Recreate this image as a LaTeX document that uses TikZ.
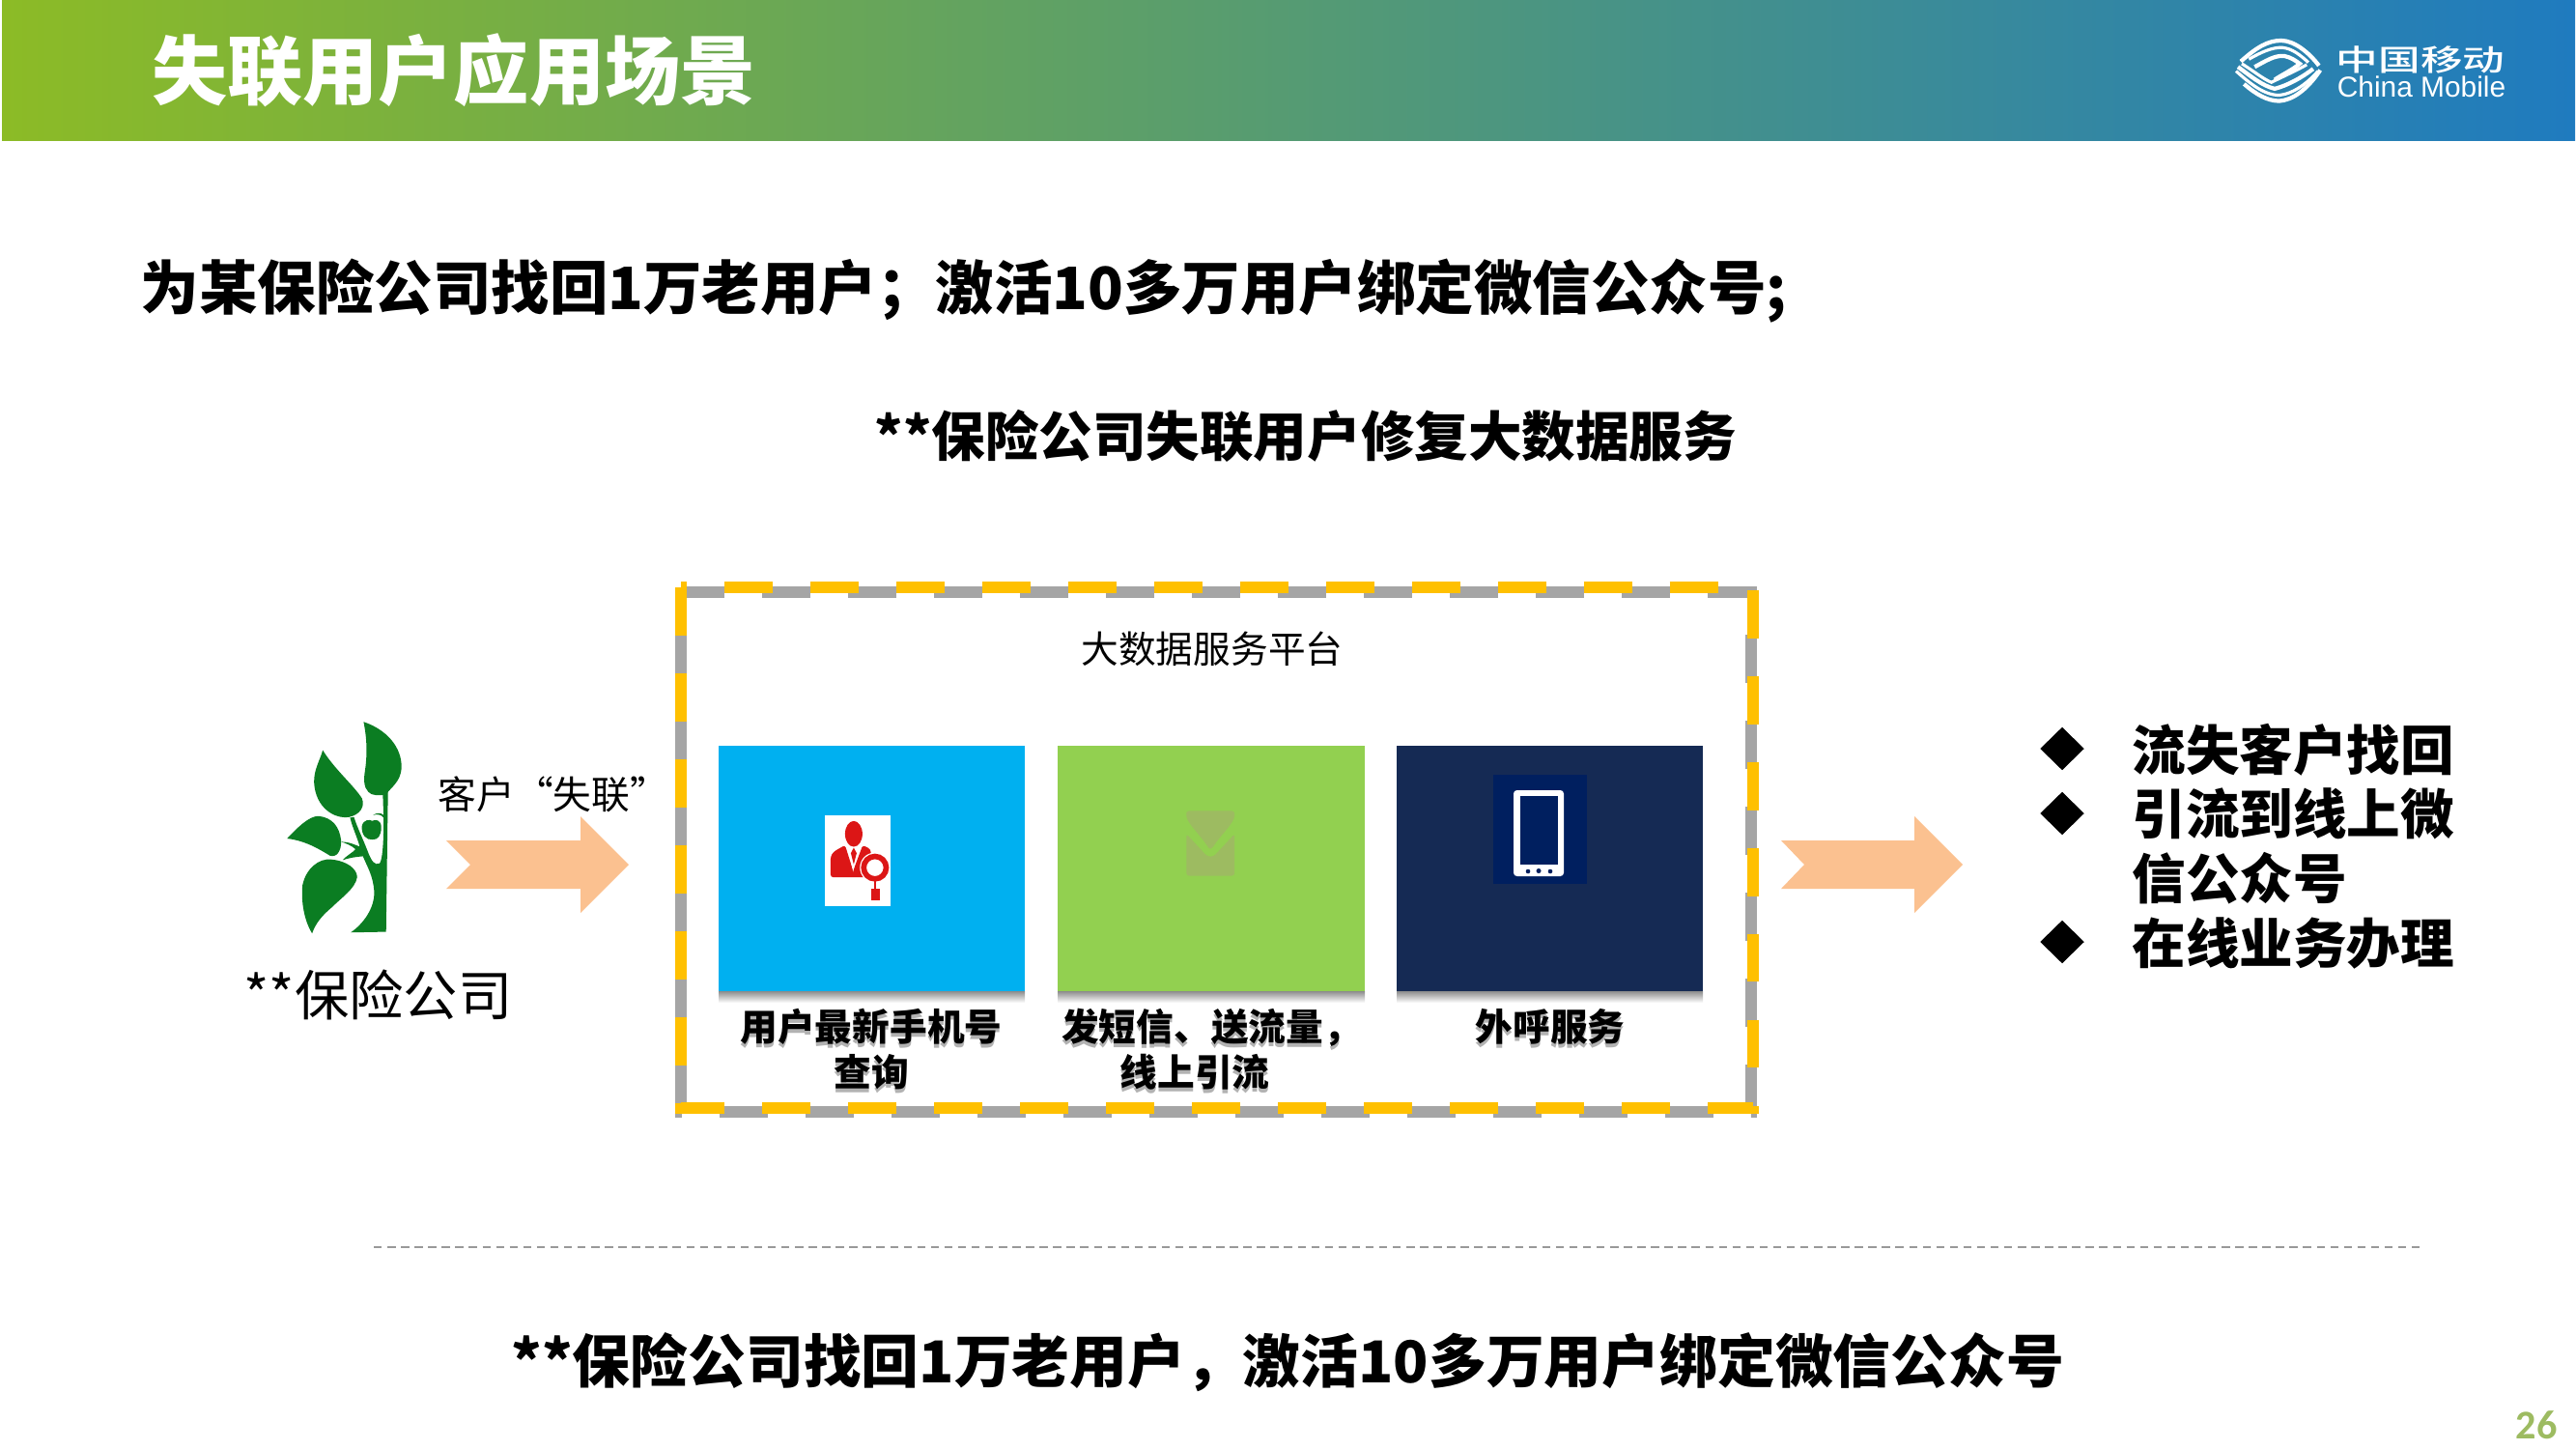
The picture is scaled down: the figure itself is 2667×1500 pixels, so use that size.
\documentclass[tikz,border=0pt]{standalone}
\usepackage{fontspec}
\usepackage{graphicx}
\newfontfamily\cjk{Noto Sans CJK SC}
\newfontfamily\cjkmedium{Noto Sans CJK SC Medium}
\newfontfamily\cjkheavy{Noto Sans CJK SC Black}
\newfontfamily\latinlogo{Liberation Sans}
\newfontfamily\pagefont{Carlito}
\usetikzlibrary{shapes.geometric}
\definecolor{leafgreen}{HTML}{0B7D22}
\definecolor{arrowpeach}{HTML}{FBC190}
\definecolor{frameyellow}{HTML}{FFC000}
\definecolor{framegray}{HTML}{A5A5A5}
\definecolor{tileblue}{HTML}{00B0F0}
\definecolor{tilegreen}{HTML}{92D050}
\definecolor{tilenavy}{HTML}{152A54}
\definecolor{iconnavy}{HTML}{001F5F}
\definecolor{iconolive}{HTML}{9DBB61}
\definecolor{iconred}{HTML}{DC1616}
\definecolor{bannerleft}{HTML}{8CBB26}
\definecolor{bannerright}{HTML}{1F7BBF}
\newcommand{\softshadow}[1]{\leavevmode\rlap{\raisebox{-1.1pt}{\color{black!30}#1}}#1}
\tikzset{
  headline/.style={font=\cjkheavy\fontsize{17}{20}\selectfont, inner sep=0pt},
  plainlabel/.style={font=\cjk\fontsize{11}{13}\selectfont, inner sep=0pt},
  tile/.style={minimum width=3.17cm, minimum height=2.54cm, inner sep=0pt},
  tilelabel/.style={font=\cjkheavy\fontsize{11}{13.3}\selectfont, align=center, inner sep=0pt},
  bulletmark/.style={diamond, fill=black, minimum width=0.46cm, minimum height=0.45cm, inner sep=0pt},
  bullettext/.style={font=\cjkheavy\fontsize{15.8}{19}\selectfont, anchor=west, inner sep=0pt},
  blockarrow/.style={fill=arrowpeach},
  logoband/.style={draw=white, line width=0.9pt}
}
\begin{document}
\begin{tikzpicture}[x=0.01cm,y=-0.01cm]
  \useasboundingbox (0,0) rectangle (2667,1500);
  % header
  \shade[left color=bannerleft, right color=bannerright] (2,1) rectangle (2666,146);
  \node [headline, white, font=\cjkheavy\fontsize{22.2}{26}\selectfont, anchor=west] (title) at (157,73) {失联用户应用场景};
  % logo
  \begin{scope}[shift={(2305,32)}, x=0.00333cm, y=-0.00333cm]
    \draw[logoband, line width=1.2pt] (45,95) .. controls (95,50) and (130,30) .. (170,30) .. controls (210,30) and (255,65) .. (288,108);
    \draw[logoband] (70,88) .. controls (110,65) and (145,50) .. (175,52) .. controls (205,55) and (230,75) .. (255,98);
    \draw[logoband, line width=1.2pt] (88,112) .. controls (120,95) and (150,75) .. (180,78) .. controls (200,82) and (215,92) .. (228,102) .. controls (205,122) and (175,135) .. (150,152);
    \draw[logoband] (48,102) .. controls (85,125) and (115,150) .. (140,160) .. controls (180,140) and (215,125) .. (250,105);
    \draw[logoband, line width=1.2pt] (36,112) .. controls (75,140) and (110,170) .. (150,180) .. controls (190,170) and (235,145) .. (270,118);
    \draw[logoband] (30,125) .. controls (70,160) and (115,200) .. (165,200) .. controls (210,195) and (255,160) .. (285,125);
    \draw[logoband, line width=1.2pt] (55,165) .. controls (95,200) and (130,218) .. (165,218) .. controls (205,215) and (250,185) .. (292,122);
  \end{scope}
  \node [font=\cjkmedium\fontsize{12.4}{14}\selectfont, white, inner sep=0pt] (brandcn) at (2506,62) {\scalebox{1}[0.7]{中国移动}};
  \node [font=\latinlogo\fontsize{8.5}{10}\selectfont, white, inner sep=0pt] (branden) at (2507,90) {China Mobile};
  % headlines
  \node [headline, font=\cjkheavy\fontsize{17.2}{20}\selectfont, anchor=west] (result) at (145,301) {为某保险公司找回1万老用户^^^^ff1b激活10多万用户绑定微信公众号;};
  \node [headline, font=\cjkheavy\fontsize{15.8}{19}\selectfont, anchor=west] (service) at (905,451) {**保险公司失联用户修复大数据服务};
  \node [headline, anchor=west] (summary) at (529,1410) {**保险公司找回1万老用户^^^^ff0c激活10多万用户绑定微信公众号};
  % frame
  \draw[framegray, line width=3.3pt, dash pattern=on 14.2pt off 11.1pt, dash phase=1.4pt] (705,613) -- (1813,613) -- (1813,1151) -- (705,1151) -- cycle;
  \draw[frameyellow, line width=3.3pt, dash pattern=on 14.2pt off 11.1pt, dash phase=12.5pt] (705,608) -- (1815,608) -- (1815,1147) -- (705,1147) -- cycle;
  \node [plainlabel] (platform) at (1255,672) {大数据服务平台};
  % tiles
  \shade[top color=black!45, bottom color=white] (744,1026) rectangle (1061,1038);
  \shade[top color=black!45, bottom color=white] (1095,1026) rectangle (1413,1038);
  \shade[top color=black!45, bottom color=white] (1446,1026) rectangle (1763,1038);
  \node [tile, fill=tileblue] (lookup) at (902.5,899) {};
  \node [tile, fill=tilegreen] (message) at (1254,899) {};
  \node [tile, fill=tilenavy] (call) at (1604.5,899) {};
  \node [tilelabel] (lookuptext) at (902,1088) {\softshadow{用户最新手机号}\\\softshadow{查询}};
  \node [tilelabel] (messagetext) at (1254,1088) {\softshadow{发短信、送流量^^^^ff0c}\\\softshadow{线上引流}\hspace*{0.34cm}};
  \node [tilelabel] (calltext) at (1605,1065) {\softshadow{外呼服务}};
  % lookup icon
  \fill[white] (854,844) rectangle (922,938);
  \begin{scope}[shift={(820,780)}, x=0.00333cm, y=-0.00333cm]
    \fill[iconred] (192,250) ellipse (27 and 40);
    \fill[iconred, rounded corners=0.8pt] (120,385) -- (120,320) -- (130,305) -- (165,285) -- (190,365) -- (220,285) -- (245,298) -- (245,385) -- cycle;
    \fill[white] (176,300) -- (190,368) -- (206,300) -- cycle;
    \fill[iconred] (183,310) -- (192,293) -- (201,310) -- (192,345) -- cycle;
    \fill[white] (258,355) circle (47);
    \draw[iconred, line width=1.6pt] (258,355) circle (35);
    \fill[iconred] (254,392) rectangle (262,420);
    \fill[iconred] (245,420) rectangle (273,456);
  \end{scope}
  % message icon
  \begin{scope}[shift={(1200,820)}, x=0.00333cm, y=-0.00333cm]
    \fill[iconolive, rounded corners=0.8pt] (85,130) -- (150,200) -- (170,200) -- (235,130) -- (235,260) -- (85,260) -- cycle;
    \fill[iconolive] (93,58) -- (227,58) .. controls (236,58) and (236,66) .. (235,75) .. controls (230,100) and (190,135) .. (168,170) .. controls (160,178) and (158,178) .. (152,170) .. controls (130,135) and (90,100) .. (85,75) .. controls (84,66) and (84,58) .. (93,58) -- cycle;
  \end{scope}
  % phone icon
  \fill[iconnavy] (1546,802) rectangle (1643,915);
  \fill[white, rounded corners=1pt] (1567,818) rectangle (1619,907);
  \fill[iconnavy] (1574,824) rectangle (1613,895);
  \fill[iconnavy] (1582,902) circle (2.3);
  \fill[iconnavy] (1593,901.5) circle (2.5);
  \fill[iconnavy] (1605,902) circle (2.3);
  % tree
  \begin{scope}[shift={(220,700)}, x=0.00333cm, y=-0.00333cm]
    \fill[leafgreen] (470,142) .. controls (540,165) and (590,220) .. (588,285) .. controls (585,330) and (555,345) .. (540,368) .. controls (520,372) and (495,372) .. (485,360) .. controls (470,345) and (470,320) .. (475,290) .. controls (482,240) and (480,190) .. (470,142) -- cycle;
    \fill[leafgreen] (343,230) .. controls (380,290) and (440,340) .. (465,380) .. controls (475,405) and (460,430) .. (425,438) .. controls (380,445) and (320,410) .. (316,330) .. controls (315,290) and (335,260) .. (343,230) -- cycle;
    \fill[leafgreen] (232,505) .. controls (265,470) and (300,435) .. (330,435) .. controls (375,440) and (395,470) .. (400,510) .. controls (402,545) and (385,565) .. (365,558) .. controls (320,530) and (280,510) .. (232,505) -- cycle;
    \fill[leafgreen] (310,800) .. controls (285,760) and (275,700) .. (280,650) .. controls (290,600) and (330,565) .. (370,570) .. controls (420,575) and (450,600) .. (450,625) .. controls (445,660) and (400,690) .. (370,720) .. controls (340,745) and (320,770) .. (310,800) -- cycle;
    \fill[leafgreen] (540,795) -- (430,797) .. controls (470,770) and (505,720) .. (503,670) .. controls (500,620) and (480,590) .. (468,560) .. controls (445,562) and (425,565) .. (405,572) .. controls (420,555) and (435,550) .. (445,538) .. controls (430,525) and (415,520) .. (400,515) .. controls (425,515) and (445,525) .. (458,530) .. controls (450,500) and (435,470) .. (428,440) -- (440,438) .. controls (450,470) and (470,510) .. (485,550) .. controls (495,575) and (505,590) .. (520,582) .. controls (530,570) and (533,500) .. (532,440) .. controls (525,430) and (512,428) .. (500,432) .. controls (510,424) and (525,424) .. (532,432) -- (530,370) -- (546,355) -- cycle;
    \fill[leafgreen] (465,465) .. controls (470,445) and (490,445) .. (497,450) .. controls (505,445) and (525,445) .. (525,470) .. controls (525,495) and (515,510) .. (497,508) .. controls (480,510) and (462,495) .. (465,465) -- cycle;
  \end{scope}
  \node [font=\cjk\fontsize{16}{18}\selectfont, inner sep=0pt, anchor=west] (insurer) at (252,1030) {**保险公司};
  \node [font=\cjk\fontsize{11.3}{13}\selectfont, inner sep=0pt, anchor=west] (lostcustomer) at (453,822) {客户“失联”};
  % arrows
  \fill[blockarrow] (462,870) -- (601,870) -- (601,845) -- (651,895) -- (601,945) -- (601,920) -- (462,920) -- (487,895) -- cycle;
  \fill[blockarrow] (1844,870) -- (1982,870) -- (1982,845) -- (2032,895) -- (1982,945) -- (1982,920) -- (1844,920) -- (1868,895) -- cycle;
  % outcome list
  \node [bulletmark] (markone) at (2135,775) {};
  \node [bulletmark] (marktwo) at (2135,842) {};
  \node [bulletmark] (markthree) at (2135,975) {};
  \node [bullettext] (lineone) at (2207,776) {流失客户找回};
  \node [bullettext] (linetwo) at (2207,842) {引流到线上微};
  \node [bullettext] (linetwob) at (2207,909) {信公众号};
  \node [bullettext] (linethree) at (2207,976) {在线业务办理};
  % divider and page number
  \draw[black!40, line width=0.6pt, dash pattern=on 2.4pt off 1.6pt] (387,1291) -- (2510,1291);
  \node [font=\pagefont\bfseries\fontsize{12}{14}\selectfont, text=iconolive, inner sep=0pt] (pagenumber) at (2626,1475) {26};
\end{tikzpicture}
\end{document}
